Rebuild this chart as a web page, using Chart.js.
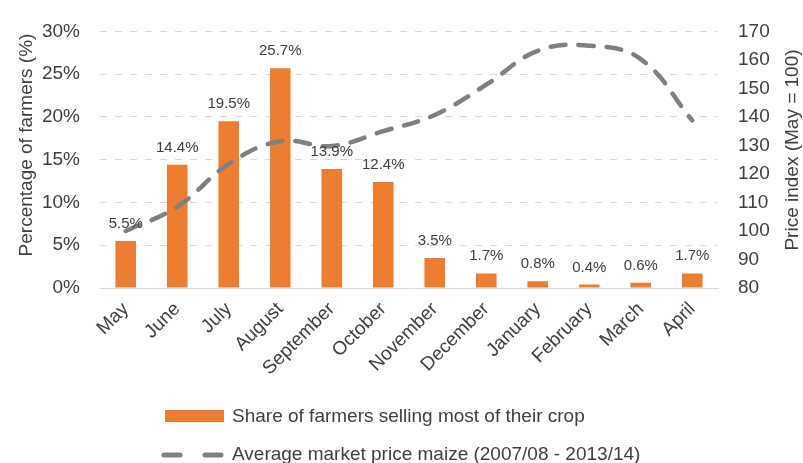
<!DOCTYPE html>
<html>
<head>
<meta charset="utf-8">
<script src="https://cdn.jsdelivr.net/npm/chart.js@4"></script>
<style>
  body { margin: 0; background: #fff; }
  #wrap { position: relative; width: 803px; height: 463px; }
  .leg { position: absolute; left: 232px; font: 19px "Liberation Sans", Arial, sans-serif; line-height: 19px; color: #404040; white-space: nowrap; }
</style>
</head>
<body>
<div id="wrap">
  <canvas id="chart" width="803" height="463"></canvas>
  <div style="position:absolute; left:165px; top:410px; width:59px; height:12px; background:#ED7D31;"></div>
  <div class="leg" style="top:406px;">Share of farmers selling most of their crop</div>
  <svg style="position:absolute; left:158px; top:448px;" width="72" height="14">
    <line x1="6" y1="7" x2="64" y2="7" stroke="#808080" stroke-width="5" stroke-linecap="round" stroke-dasharray="16 25"></line>
  </svg>
  <div class="leg" style="top:444px;">Average market price maize (2007/08 - 2013/14)</div>
</div>
<script>
// 월별 데이터
const months = ['May', 'June', 'July', 'August', 'September', 'October', 'November', 'December', 'January', 'February', 'March', 'April'];
const shareSelling = [5.5, 14.4, 19.5, 25.7, 13.9, 12.4, 3.5, 1.7, 0.8, 0.4, 0.6, 1.7];
const priceIndex = [100, 108.5, 123.5, 131.5, 129.8, 135, 140.7, 151.3, 163.2, 165, 160.3, 138.8];

const leftTitle = 'Percentage of farmers (%)';
const rightTitle = 'Price index (May = 100)';

const textColor = '#404040';
const fontFamily = '"Liberation Sans", Arial, sans-serif';

// 막대 위 라벨 + 축 제목 (둘 다 아래에서 위로 읽히게)
const extraText = {
    id: 'extraText',
    afterDatasetsDraw(chart) {
        const ctx = chart.ctx;
        const meta = chart.getDatasetMeta(1);
        ctx.save();
        ctx.font = '15px ' + fontFamily;
        ctx.fillStyle = textColor;
        ctx.textAlign = 'center';
        ctx.textBaseline = 'alphabetic';
        meta.data.forEach((bar, i) => {
            ctx.fillText(shareSelling[i].toFixed(1) + '%', bar.x, bar.y - 13);
        });

        ctx.font = '19px ' + fontFamily;
        ctx.textBaseline = 'middle';
        [[leftTitle, 27, 145], [rightTitle, 793, 150]].forEach(([t, x, y]) => {
            ctx.save();
            ctx.translate(x, y);
            ctx.rotate(-Math.PI / 2);
            ctx.fillText(t, 0, 0);
            ctx.restore();
        });
        ctx.restore();
    }
};

const ctx = document.getElementById('chart').getContext('2d');
new Chart(ctx, {
    type: 'bar',
    data: {
        labels: months,
        datasets: [
            {
                type: 'line',
                label: 'Average market price maize (2007/08 - 2013/14)',
                data: priceIndex,
                yAxisID: 'y1',
                borderColor: '#808080',
                borderWidth: 4.5,
                borderDash: [15, 13],
                borderCapStyle: 'round',
                pointRadius: 0,
                tension: 0.4,
                fill: false,
                order: 0
            },
            {
                label: 'Share of farmers selling most of their crop',
                data: shareSelling,
                yAxisID: 'y',
                backgroundColor: '#ED7D31',
                barPercentage: 0.4,
                categoryPercentage: 1,
                order: 1
            }
        ]
    },
    options: {
        responsive: false,
        animation: false,
        layout: { padding: { left: 0, right: 0, top: 23, bottom: 80 } },
        plugins: { legend: { display: false }, tooltip: { enabled: false } },
        scales: {
            x: {
                grid: { display: false },
                border: { display: true, color: '#d9d9d9' },
                ticks: { color: textColor, font: { size: 19, family: fontFamily }, maxRotation: 45, minRotation: 45, autoSkip: false, padding: 2 },
                afterFit(scale) { scale.height = 95; }
            },
            y: {
                position: 'left',
                min: 0, max: 30,
                ticks: { stepSize: 5, color: textColor, font: { size: 19, family: fontFamily }, padding: 20, callback: v => v + '%' },
                grid: { color: '#d9d9d9', drawTicks: false },
                border: { display: false, dash: [7, 8] },
                afterFit(scale) { scale.width = 100; }
            },
            y1: {
                position: 'right',
                min: 80, max: 170,
                ticks: { stepSize: 10, color: textColor, font: { size: 19, family: fontFamily }, padding: 20 },
                grid: { drawOnChartArea: false, drawTicks: false },
                border: { display: false },
                afterFit(scale) { scale.width = 85; }
            }
        }
    },
    plugins: [extraText]
});
</script>
</body>
</html>
